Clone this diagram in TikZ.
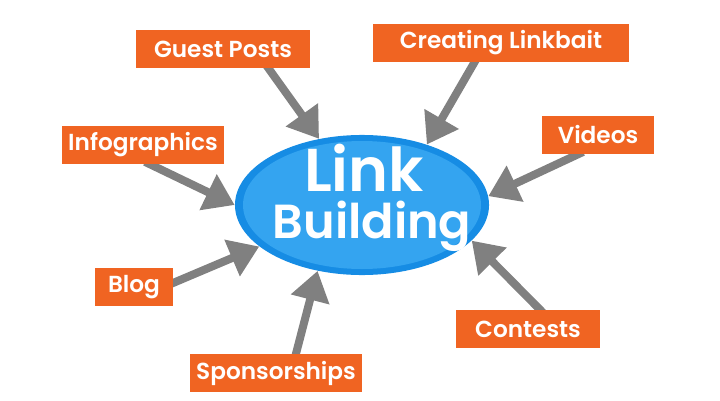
\documentclass[tikz,border=0pt]{standalone}
\usepackage{fontspec}
\setmainfont{Poppins}[UprightFont=* Medium,BoldFont=* SemiBold]
\usetikzlibrary{shapes.geometric,arrows.meta,backgrounds}
\definecolor{lborange}{RGB}{240,100,34}
\definecolor{lbgray}{RGB}{128,128,128}
\definecolor{lbblue}{RGB}{22,140,228}
\definecolor{lbinner}{RGB}{52,164,240}

\begin{document}
\begin{tikzpicture}[x=0.025cm,y=-0.025cm,
  tag/.style={fill=lborange,text=white,minimum height=0.95cm,inner sep=0pt,font=\bfseries\fontsize{16.5}{18}\selectfont},
  arr/.style={draw=lbgray,line width=5.7pt,shorten <=-4pt,-{Triangle[length=21pt,width=27pt]}}]
\useasboundingbox (0,0) rectangle (720,400);
% central ellipse
\node[ellipse,fill=lbblue,minimum width=6.35cm,minimum height=3.5cm,inner sep=0pt,
  path picture={\fill[lbinner] (path picture bounding box.center) ellipse [x radius=119,y radius=64];}] (lb) at (362,205) {};
\node[text=white,anchor=base,inner sep=0pt,text depth=0pt,font=\bfseries\fontsize{43}{43}\selectfont] (link) at (364,191) {Link};
\node[text=white,anchor=base,inner sep=0pt,text height=24pt,font=\bfseries\fontsize{34}{34}\selectfont] (building) at (372,238) {Building};
% the orange boxes
\node[tag,minimum width=4.33cm] (guest) at (223,49) {Guest Posts};
\node[tag,minimum width=6.4cm] (bait) at (501,43) {Creating Linkbait};
\node[tag,minimum width=4.05cm] (info) at (143,145) {Infographics};
\node[tag,minimum width=2.8cm] (videos) at (598,135) {Videos};
\node[tag,minimum width=1.95cm] (blog) at (134,287) {Blog};
\node[tag,minimum width=3.6cm] (contests) at (528,329) {Contests};
\node[tag,minimum width=4.3cm] (spons) at (276,373) {Sponsorships};
\begin{scope}[on background layer]
\draw[arr] (guest.-23) -- (lb.123);
\draw[arr] (bait.216) -- (lb.43);
\draw[arr] (info.-70) -- (lb.180);
\draw[arr] (videos.224) -- (lb.4);
\draw[arr] (blog.6) -- (lb.202);
\draw[arr] (contests.58) -- (lb.-18);
\draw[arr] (spons.44) -- (lb.-124);
\end{scope}
\end{tikzpicture}
\end{document}
